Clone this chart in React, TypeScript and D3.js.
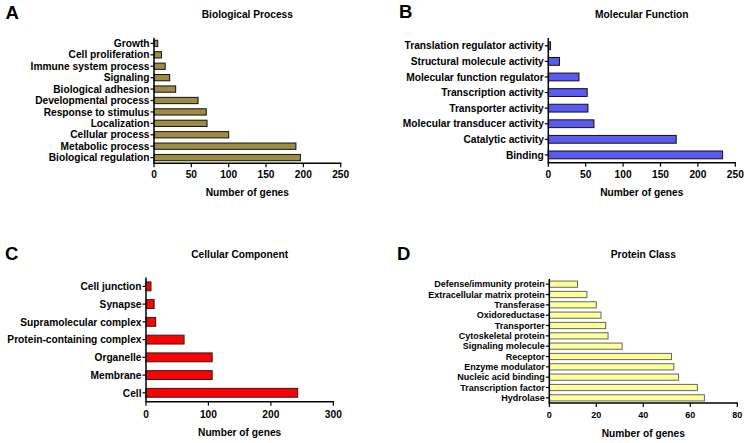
import React from "react";
import * as d3 from "d3";

const bpCategories = ["Growth", "Cell proliferation", "Immune system process", "Signaling", "Biological adhesion", "Developmental process", "Response to stimulus", "Localization", "Cellular process", "Metabolic process", "Biological regulation"];
const bpValues = [5, 10, 15, 21, 29, 59, 70, 71, 100, 190, 196];
const bpTicks = [0, 50, 100, 150, 200, 250];

const mfCategories = ["Translation regulator activity", "Structural molecule activity", "Molecular function regulator", "Transcription activity", "Transporter activity", "Molecular transducer activity", "Catalytic activity", "Binding"];
const mfValues = [3, 15, 41, 52, 53, 61, 171, 233];
const mfTicks = [0, 50, 100, 150, 200, 250];

const ccCategories = ["Cell junction", "Synapse", "Supramolecular complex", "Protein-containing complex", "Organelle", "Membrane", "Cell"];
const ccValues = [8, 13, 15.5, 61, 106, 106, 243];
const ccTicks = [0, 100, 200, 300];

const pcCategories = ["Defense/immunity protein", "Extracellular matrix protein", "Transferase", "Oxidoreductase", "Transporter", "Cytoskeletal protein", "Signaling molecule", "Receptor", "Enzyme modulator", "Nucleic acid binding", "Transcription factor", "Hydrolase"];
const pcValues = [12, 16, 20, 22, 24, 25, 31, 52, 53, 55, 63, 66];
const pcTicks = [0, 20, 40, 60, 80];

const FONT = "'Liberation Sans', Arial, sans-serif";

type PanelProps = {
  letter: string;
  title: string;
  categories: string[];
  values: number[];
  ticks: number[];
  x0: number;
  x1: number;
  yTop: number;
  yBottom: number;
  barFrac: number;
  fill: string;
  stroke: string;
  fontSize: number;
  letterX: number;
  letterY: number;
  titleY: number;
  tickY: number;
  labelY: number;
};

function Panel(p: PanelProps) {
  const max = p.ticks[p.ticks.length - 1];
  const x = d3.scaleLinear().domain([0, max]).range([p.x0, p.x1]);
  const y = d3.scalePoint<string>().domain(p.categories).range([p.yTop, p.yBottom]).padding(0.5);
  const step = y.step();
  const bh = step * p.barFrac;
  const cx = (p.x0 + p.x1) / 2;
  return (
    <g fontFamily={FONT} fontWeight="bold" fill="#000">
      <text x={p.letterX} y={p.letterY} fontSize={18.5}>{p.letter}</text>
      <text x={cx} y={p.titleY} fontSize={10.2} textAnchor="middle">{p.title}</text>
      {p.categories.map((c, i) => (
        <g key={c}>
          <rect x={x(0)} y={(y(c) as number) - bh / 2} width={x(p.values[i]) - x(0)} height={bh}
            fill={p.fill} stroke={p.stroke} strokeWidth={1} />
          <line x1={p.x0 - 3.5} x2={p.x0} y1={y(c)} y2={y(c)} stroke="#000" strokeWidth={1.2} />
          <text x={p.x0 - 4.5} y={(y(c) as number) + p.fontSize * 0.36} fontSize={p.fontSize} textAnchor="end">{c}</text>
        </g>
      ))}
      <line x1={p.x0} x2={p.x0} y1={p.yTop} y2={p.yBottom} stroke="#000" strokeWidth={1.5} />
      <line x1={p.x0 - 0.75} x2={p.x1 + 0.75} y1={p.yBottom} y2={p.yBottom} stroke="#000" strokeWidth={1.5} />
      {p.ticks.map((t) => (
        <g key={t}>
          <line x1={x(t)} x2={x(t)} y1={p.yBottom} y2={p.yBottom + 4} stroke="#000" strokeWidth={1.2} />
          <text x={x(t)} y={p.tickY} fontSize={p.fontSize} textAnchor="middle">{t}</text>
        </g>
      ))}
      <text x={cx} y={p.labelY} fontSize={10.2} textAnchor="middle">Number of genes</text>
    </g>
  );
}

export default function App() {
  return (
    <svg width={750} height={443} style={{ position: "absolute", left: 0, top: 0, background: "#fff" }}>
      <rect width={750} height={443} fill="#fff" />
      <Panel letter="A" title="Biological Process" categories={bpCategories} values={bpValues} ticks={bpTicks}
        x0={154} x1={340.7} yTop={37.7} yBottom={163.3} barFrac={0.55} fill="#9E8C45" stroke="#111"
        fontSize={10.2} letterX={5.5} letterY={18.5} titleY={18} tickY={178} labelY={195.5} />
      <Panel letter="B" title="Molecular Function" categories={mfCategories} values={mfValues} ticks={mfTicks}
        x0={548.3} x1={735.3} yTop={38} yBottom={162.7} barFrac={0.5} fill="#5A5AF2" stroke="#111"
        fontSize={10.2} letterX={399} letterY={18} titleY={18} tickY={178} labelY={196} />
      <Panel letter="C" title="Cellular Component" categories={ccCategories} values={ccValues} ticks={ccTicks}
        x0={146} x1={333.3} yTop={277.5} yBottom={401.7} barFrac={0.5} fill="#FF0000" stroke="#222"
        fontSize={10.2} letterX={5} letterY={259.5} titleY={258} tickY={418} labelY={436} />
      <Panel letter="D" title="Protein Class" categories={pcCategories} values={pcValues} ticks={pcTicks}
        x0={549.3} x1={737.3} yTop={279} yBottom={403} barFrac={0.6} fill="#FFFF99" stroke="#666"
        fontSize={9} letterX={397} letterY={260} titleY={257.7} tickY={418} labelY={437} />
    </svg>
  );
}
